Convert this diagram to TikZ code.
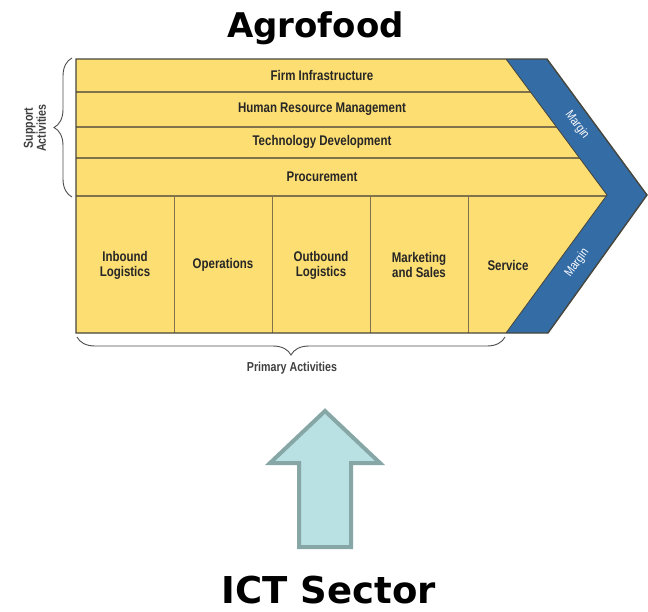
\documentclass[tikz,border=0pt]{standalone}
\usepackage{fontspec}
\usepackage{tikz}
\usetikzlibrary{decorations.pathreplacing}

\newfontfamily\chainfont[FakeStretch=0.82]{Liberation Sans}
\newfontfamily\headfont{DejaVu Sans}

\definecolor{chainyellow}{RGB}{253,222,114}
\definecolor{chainline}{RGB}{128,114,74}
\definecolor{chainedge}{RGB}{70,70,60}
\definecolor{marginblue}{RGB}{52,108,166}
\definecolor{ictfill}{RGB}{185,224,226}
\definecolor{ictline}{RGB}{135,166,166}

\begin{document}
\begin{tikzpicture}[x=1pt,y=-1pt,
    activity/.style={font={\chainfont\bfseries\fontsize{14}{15}\selectfont}, text=black!85, align=center},
    marginlbl/.style={font={\chainfont\fontsize{12.5}{13}\selectfont}, text=white, inner sep=1pt},
    sidelbl/.style={font={\chainfont\bfseries\fontsize{13}{13}\selectfont}, text=black!75, align=center},
    headline/.style={font={\headfont\bfseries\fontsize{#1}{36}\selectfont}, anchor=base, inner sep=0pt},
    brace/.style={decorate, decoration={brace, amplitude=18pt}, draw=black!70, line width=0.9pt}]

    \useasboundingbox (0,0) rectangle (648,611);

    % value chain body
    \fill[chainyellow] (76,59) -- (506,59) -- (607,195) -- (506,333) -- (76,333) -- cycle;
    \draw[chainline, line width=1.2pt] (76,92) -- (530.5,92);
    \draw[chainline, line width=1.2pt] (76,127) -- (556.5,127);
    \draw[chainline, line width=1.2pt] (76,158) -- (579.5,158);
    \draw[chainline, line width=1.2pt] (76,196) -- (607,196);
    \foreach \x in {174,272,370,468}
        \draw[chainline, line width=0.9pt] (\x,196) -- (\x,333);

    % margin
    \fill[marginblue] (506,59) -- (547,59) -- (647,195) -- (548,333) -- (506,333) -- (607,195) -- cycle;
    \draw[chainedge, line width=0.8pt] (506,59) -- (607,195) -- (506,333);
    \draw[chainedge, line width=1.4pt] (76,59) -- (547,59) -- (647,195) -- (548,333) -- (76,333) -- cycle;

    % support activities
    \node[activity] (firm) at (322,75) {Firm Infrastructure};
    \node[activity] (hrm) at (322,109) {Human Resource Management};
    \node[activity] (tech) at (322,142) {Technology Development};
    \node[activity] (proc) at (322,177) {Procurement};

    % primary activities
    \node[activity] (inbound) at (125,265) {Inbound\\Logistics};
    \node[activity] (ops) at (223,265) {Operations};
    \node[activity] (outbound) at (321,265) {Outbound\\Logistics};
    \node[activity] (marketing) at (419,265) {Marketing\\and Sales};
    \node[activity] (service) at (508,265) {Service};

    \node[marginlbl, rotate=-53.4] (margin_up) at (577,125) {Margin};
    \node[marginlbl, rotate=53.4] (margin_low) at (577,263) {Margin};

    % braces
    \coordinate (sup_bot) at (72,197);
    \coordinate (sup_top) at (72,58);
    \coordinate (prim_right) at (505,337);
    \coordinate (prim_left) at (77,337);
    \draw[brace] (sup_bot) -- (sup_top);
    \draw[brace] (prim_right) -- (prim_left);
    \node[sidelbl, rotate=90] (support) at (35,128) {Support\\Activities};
    \node[sidelbl] (primary) at (292,368) {Primary Activities};

    % ICT arrow
    \draw[ictline, fill=ictfill, line width=4pt] (325,411) -- (380,463) -- (351,463) -- (351,547)
        -- (299,547) -- (299,463) -- (270,463) -- cycle;

    \node[headline=34] (agro) at (315.5,37) {Agrofood};
    \node[headline=37] (ict) at (329,603) {ICT Sector};
\end{tikzpicture}
\end{document}
